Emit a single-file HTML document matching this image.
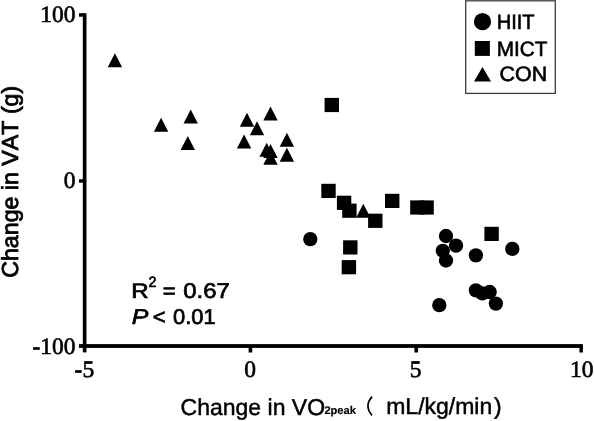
<!DOCTYPE html>
<html><head><meta charset="utf-8"><style>
html,body{margin:0;padding:0;background:#fff;}
svg{display:block;will-change:transform;text-rendering:geometricPrecision;font-kerning:none;}
.s{font-family:"Liberation Serif",serif;font-size:23.5px;fill:#000;stroke:#000;stroke-width:0.6px;}
.a{font-family:"Liberation Sans",sans-serif;fill:#000;stroke:#000;}
</style></head><body>
<svg width="594" height="421" viewBox="0 0 594 421">
<rect width="594" height="421" fill="#fff"/>
<g fill="#000">
<rect x="82.8" y="13.2" width="3.7" height="339.2"/>
<rect x="79" y="344.1" width="503.9" height="3.8"/>
<rect x="79" y="13.2" width="5" height="3.5"/>
<rect x="79" y="179.2" width="5" height="3.5"/>
<rect x="248.6" y="346" width="3.6" height="6.5"/>
<rect x="414.4" y="346" width="3.7" height="6.5"/>
<rect x="579.4" y="346" width="3.5" height="6.5"/>
<path d="M114.9 53.3L122.1 67.3L107.7 67.3Z"/>
<path d="M161.1 117.7L168.3 131.7L153.9 131.7Z"/>
<path d="M190.7 109.6L197.9 123.6L183.5 123.6Z"/>
<path d="M187.8 136.0L195.0 150.0L180.6 150.0Z"/>
<path d="M247.0 112.8L254.2 126.8L239.8 126.8Z"/>
<path d="M270.5 106.4L277.7 120.4L263.3 120.4Z"/>
<path d="M257.0 121.2L264.2 135.2L249.8 135.2Z"/>
<path d="M244.1 134.4L251.3 148.4L236.9 148.4Z"/>
<path d="M286.9 132.8L294.1 146.8L279.7 146.8Z"/>
<path d="M286.9 147.8L294.1 161.8L279.7 161.8Z"/>
<path d="M266.7 142.7L273.9 156.7L259.5 156.7Z"/>
<path d="M270.5 144.1L277.7 158.1L263.3 158.1Z"/>
<path d="M270.5 150.8L277.7 164.8L263.3 164.8Z"/>
<path d="M363.3 203.7L370.5 217.7L356.1 217.7Z"/>
<rect x="324.60" y="97.90" width="14.4" height="14.2"/>
<rect x="321.30" y="183.80" width="14.4" height="14.2"/>
<rect x="336.90" y="195.70" width="14.4" height="14.2"/>
<rect x="342.20" y="203.60" width="14.4" height="14.2"/>
<rect x="368.10" y="213.70" width="14.4" height="14.2"/>
<rect x="385.00" y="193.80" width="14.4" height="14.2"/>
<rect x="410.20" y="200.40" width="14.4" height="14.2"/>
<rect x="419.40" y="200.40" width="14.4" height="14.2"/>
<rect x="343.10" y="240.30" width="14.4" height="14.2"/>
<rect x="341.70" y="260.10" width="14.4" height="14.2"/>
<rect x="484.40" y="226.80" width="14.4" height="14.2"/>
<circle cx="310.30" cy="239.08" r="7.15"/>
<circle cx="446.00" cy="235.98" r="7.15"/>
<circle cx="456.00" cy="245.68" r="7.15"/>
<circle cx="442.80" cy="250.78" r="7.15"/>
<circle cx="446.00" cy="260.48" r="7.15"/>
<circle cx="475.90" cy="255.38" r="7.15"/>
<circle cx="512.30" cy="248.88" r="7.15"/>
<circle cx="475.90" cy="290.38" r="7.15"/>
<circle cx="482.40" cy="293.38" r="7.15"/>
<circle cx="489.70" cy="291.98" r="7.15"/>
<circle cx="495.90" cy="303.58" r="7.15"/>
<circle cx="439.30" cy="305.18" r="7.15"/>
</g>
<g class="s" text-anchor="end">
<text x="75.5" y="22.2">100</text>
<text x="75.5" y="187.9">0</text>
<text x="75.5" y="354.1">-100</text>
</g>
<g class="s" text-anchor="middle">
<text x="84.4" y="377.2">-5</text>
<text x="250" y="377.2">0</text>
<text x="415.6" y="377.2">5</text>
<text x="581.7" y="377.2">10</text>
</g>
<rect x="465.7" y="0.8" width="89.6" height="92.6" fill="#fff" stroke="#3c3c3c" stroke-width="1.3"/>
<g fill="#000">
<circle cx="482.5" cy="21.7" r="8.6"/>
<rect x="474.8" y="41" width="15.1" height="14.9"/>
<path d="M482.5 66.9L491 81.6L474 81.6Z"/>
</g>
<g class="a">
<text transform="translate(496.65 28.7) scale(0.9676 1)" font-size="20.8" stroke-width="0.6">HIIT</text>
<text transform="translate(496.80 55.6) scale(0.9969 1)" font-size="20.8" stroke-width="0.6">MICT</text>
<text transform="translate(499.51 81.3) scale(1.0306 1)" font-size="20.8" stroke-width="0.6">CON</text>
<text transform="translate(131.17 298.0) scale(1.1414 1)" font-size="21.1" stroke-width="0.7">R</text>
<text transform="translate(148.53 287.2) scale(0.9512 1)" font-size="15.0" stroke-width="0.7">2</text>
<text transform="translate(162.77 298.0) scale(1.0438 1)" font-size="21.1" stroke-width="0.7">=</text>
<text transform="translate(183.22 297.8) scale(1.1226 1)" font-size="21.3" stroke-width="0.7">0.67</text>
<text transform="translate(131.68 324.4) scale(1.1702 1)" font-size="21.3" font-style="italic" stroke-width="0.7">P</text>
<text transform="translate(152.76 324.4) scale(1.0340 1)" font-size="21.3" stroke-width="0.7">&lt;</text>
<text transform="translate(172.99 324.4) scale(1.0282 1)" font-size="21.3" stroke-width="0.7">0.01</text>
<text x="180.6" y="415" font-size="23" stroke-width="0.45">Change in VO</text>
<text x="324.4" y="414.2" font-size="11.1" font-weight="bold" stroke-width="0.2">2peak</text>
<text x="386.2" y="414.2" font-size="23" stroke-width="0.45">mL/kg/min</text>
<text x="493.9" y="414.2" font-size="23" stroke-width="0.45">)</text>
<text transform="translate(17.7 277.8) rotate(-90)" font-size="23.2" stroke-width="0.8">Change in VAT (g)</text>
</g>
<path d="M372 396.6 Q363.8 406 372 415.4" fill="none" stroke="#000" stroke-width="1.6"/>
</svg>
</body></html>
